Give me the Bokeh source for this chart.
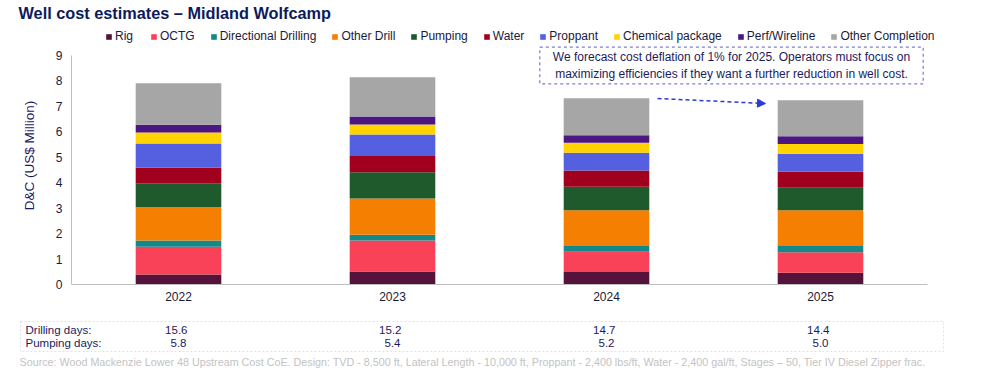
import math
from bokeh.plotting import figure
from bokeh.models import (ColumnDataSource, Legend, LegendItem, Label, BoxAnnotation,
                          Arrow, NormalHead, Range1d, FixedTicker)
from bokeh.embed import file_html
from bokeh.resources import INLINE

years = ["2022", "2023", "2024", "2025"]
components = ["Rig", "OCTG", "Directional Drilling", "Other Drill", "Pumping", "Water",
              "Proppant", "Chemical package", "Perf/Wireline", "Other Completion"]
rig = [0.39, 0.51, 0.49, 0.46]
octg = [1.09, 1.22, 0.80, 0.81]
directional = [0.25, 0.23, 0.22, 0.24]
other_drill = [1.32, 1.42, 1.41, 1.41]
pumping = [0.93, 1.03, 0.92, 0.88]
water = [0.61, 0.64, 0.64, 0.63]
proppant = [0.95, 0.85, 0.70, 0.71]
chemical = [0.43, 0.39, 0.39, 0.38]
perf = [0.31, 0.31, 0.30, 0.31]
other_completion = [1.63, 1.55, 1.45, 1.41]
drilling_days = ["15.6", "15.2", "14.7", "14.4"]
pumping_days = ["5.8", "5.4", "5.2", "5.0"]

colors = ["#55133b", "#f94157", "#13898c", "#f57f00", "#1f5a2d", "#a0001e",
          "#5560e0", "#ffd200", "#4c1782", "#a6a6a6"]

series = [rig, octg, directional, other_drill, pumping, water, proppant, chemical, perf, other_completion]
xpos = list(range(len(years)))
data = {"x": xpos}
for name, vals in zip(components, series):
    data[name] = vals
source = ColumnDataSource(data)

FONT = "Liberation Sans"
NAVY = "#1b1a5e"
W, H = 985, 373

# frame covers the whole canvas; axes are drawn at fixed locations inside it
p = figure(x_range=Range1d(-178 / 214, (W - 178) / 214),
           y_range=Range1d(-(H - 284) / 25.44, 284 / 25.44),
           width=W, height=H, min_border=0, min_border_left=0, min_border_right=0,
           min_border_top=0, min_border_bottom=0,
           toolbar_location=None, output_backend="svg", outline_line_color=None)
p.xgrid.grid_line_color = None
p.ygrid.grid_line_color = None

rends = p.vbar_stack(components, x="x", width=0.4, color=colors, line_color=None, source=source)

# axes
xa = p.xaxis[0]
ya = p.yaxis[0]
xa.fixed_location = 0
xa.bounds = (-0.5, len(years) - 0.5)
xa.ticker = FixedTicker(ticks=xpos)
xa.major_label_overrides = {i: y for i, y in zip(xpos, years)}
ya.fixed_location = -0.5
ya.bounds = (0, 9)
ya.ticker = FixedTicker(ticks=list(range(0, 10)))
for ax in (xa, ya):
    ax.axis_line_color = "#bfbfbf"
    ax.major_tick_line_color = None
    ax.minor_tick_line_color = None
    ax.major_tick_out = 0
    ax.major_tick_in = 0
    ax.major_label_text_font = FONT
    ax.major_label_text_font_size = "12px"
    ax.major_label_text_color = "#1a1a3a"
ya.major_label_standoff = 9
xa.major_label_standoff = 7


def px_x(px):
    return (px - 178) / 214


def px_y(py):
    return (284 - py) / 25.44


# y axis title
p.add_layout(Label(x=px_x(29), y=px_y(155), text="D&C (US$ Million)", angle=math.pi / 2,
                   text_font=FONT, text_font_size="13.5px", text_color=NAVY,
                   text_align="center", text_baseline="middle"))

# legend
items = [LegendItem(label=c, renderers=[r]) for c, r in zip(components, rends)]
legend = Legend(items=items, orientation="horizontal", location=(105, H - 43), padding=0, margin=0,
                spacing=15, glyph_width=7, glyph_height=7, label_standoff=3,
                label_text_font=FONT, label_text_font_size="12px", label_text_color="#1a1a3a",
                border_line_color=None, background_fill_alpha=0)
p.add_layout(legend)

# title
p.add_layout(Label(x=px_x(18), y=px_y(12), text="Well cost estimates \u2013 Midland Wolfcamp",
                   text_font=FONT, text_font_size="16.3px", text_font_style="bold",
                   text_color="#0d1a5c", text_baseline="middle", text_align="left"))

# annotation box
p.add_layout(Label(x=px_x(731), y=px_y(65),
                   text="We forecast cost deflation of 1% for 2025. Operators must focus on\nmaximizing efficiencies if they want a further reduction in well cost.",
                   text_font=FONT, text_font_size="12px", text_color=NAVY,
                   text_align="center", text_baseline="middle",
                   border_line_color="#5a5fc8", border_line_dash="3 3", border_line_width=1,
                   background_fill_color="white",
                   padding=dict(left=13, right=13, top=3, bottom=3)))

# arrow
p.add_layout(Arrow(x_start=px_x(657), y_start=px_y(98), x_end=px_x(765), y_end=px_y(103),
                   line_color="#2b3bd6", line_dash="4 3", line_width=1.5,
                   end=NormalHead(size=8, fill_color="#2b3bd6", line_color="#2b3bd6")))

# table box
p.add_layout(BoxAnnotation(left=px_x(20), right=px_x(943), bottom=px_y(351), top=px_y(321),
                           fill_alpha=0, line_color="#a0a0a0", line_dash="2 2", line_width=1,
                           level="overlay"))
p.add_layout(Label(x=px_x(25), y=px_y(329), text="Drilling days:", text_font=FONT, text_font_size="11.5px",
                   text_color=NAVY, text_baseline="middle"))
p.add_layout(Label(x=px_x(25), y=px_y(342), text="Pumping days:", text_font=FONT, text_font_size="11.5px",
                   text_color=NAVY, text_baseline="middle"))
for i, (d, pdays) in enumerate(zip(drilling_days, pumping_days)):
    p.add_layout(Label(x=xpos[i] + 9 / 214, y=px_y(329), text=d, text_font=FONT, text_font_size="11.5px",
                       text_color=NAVY, text_baseline="middle", text_align="right"))
    p.add_layout(Label(x=xpos[i] + 8 / 214, y=px_y(342), text=pdays, text_font=FONT, text_font_size="11.5px",
                       text_color=NAVY, text_baseline="middle", text_align="right"))

# source
p.add_layout(Label(x=px_x(19), y=px_y(361),
                   text="Source: Wood Mackenzie Lower 48 Upstream Cost CoE. Design: TVD - 8,500 ft, Lateral Length - 10,000 ft, Proppant - 2,400 lbs/ft, Water - 2,400 gal/ft, Stages \u2013 50, Tier IV Diesel Zipper frac.",
                   text_font=FONT, text_font_size="10.75px", text_color="#c3c3c3",
                   text_baseline="middle"))

open("out.html", "w").write(file_html(p, INLINE))
